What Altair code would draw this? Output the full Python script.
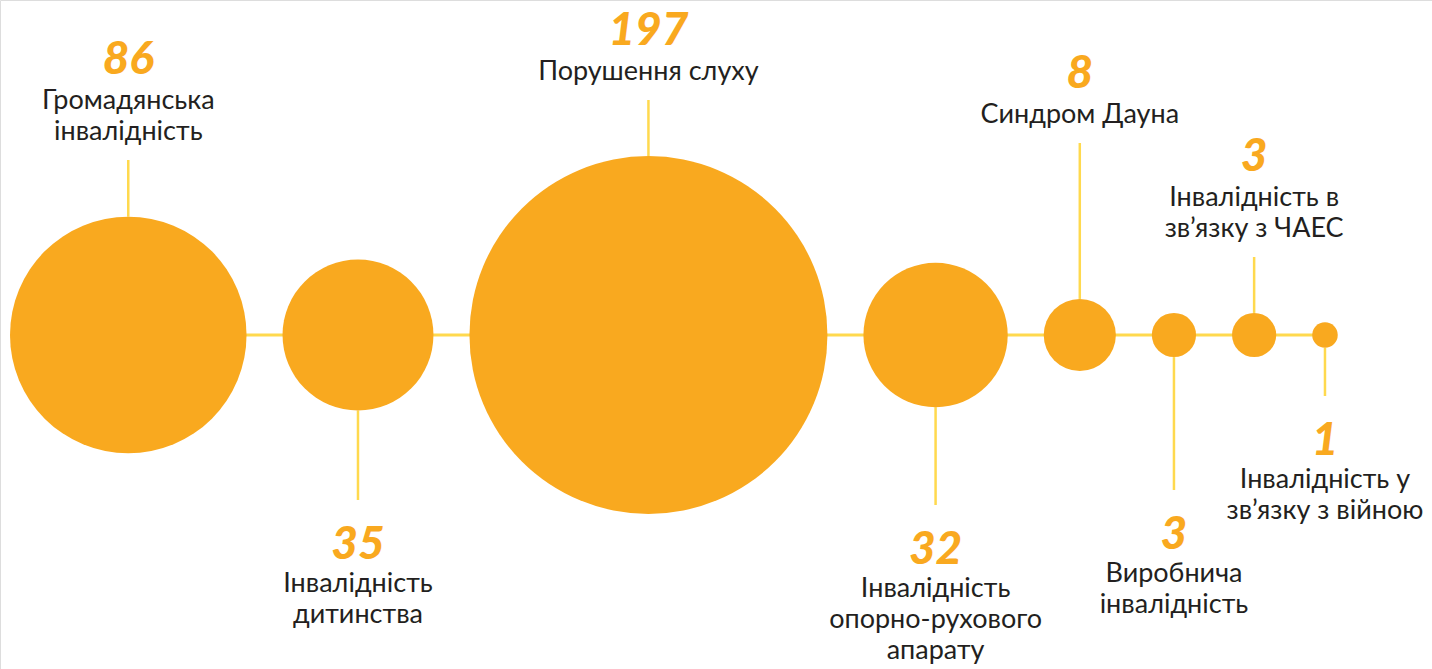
import math
import altair as alt
import pandas as pd

# ---- data ----
values = [86, 35, 197, 32, 8, 3, 3, 1]
labels = [
    ["Громадянська", "інвалідність"],
    ["Інвалідність", "дитинства"],
    ["Порушення слуху"],
    ["Інвалідність", "опорно-рухового", "апарату"],
    ["Синдром Дауна"],
    ["Виробнича", "інвалідність"],
    ["Інвалідність в", "зв’язку з ЧАЕС"],
    ["Інвалідність у", "зв’язку з війною"],
]
# ---- layout ----
directions = ["up", "down", "up", "down", "up", "down", "up", "down"]
stem_len = [175, 165, 235, 170, 192, 155, 78, 61]  # from circle centre to stem end

W, H = 1432, 669
CY = 335
RMAX = 179
GAP = 36
LEFT = 10
LINE_H = 31

ORANGE = "#F9A91F"
YELLOW = "#FFD94E"
TEXT = "#231F20"

radii = [RMAX * math.sqrt(v / max(values)) for v in values]
cx = []
edge = LEFT
for r in radii:
    cx.append(edge + r)
    edge += 2 * r + GAP

circ_rows, stem_rows, num_rows, lab_rows = [], [], [], []
for i, v in enumerate(values):
    circ_rows.append({"x": cx[i], "y": CY, "value": v})
    n = len(labels[i])
    if directions[i] == "up":
        end = CY - stem_len[i]
        stem_rows.append({"x": cx[i], "y": CY - radii[i], "y2": end})
        last = end - 28
        first = last - LINE_H * (n - 1)
        ny = first - 41
    else:
        end = CY + stem_len[i]
        stem_rows.append({"x": cx[i], "y": CY + radii[i], "y2": end})
        ny = end + 45
        first = ny + 39
    num_rows.append({"x": cx[i], "y": ny, "t": str(v)})
    for k, line in enumerate(labels[i]):
        lab_rows.append({"x": cx[i], "y": first + k * LINE_H, "t": line})

circ = pd.DataFrame(circ_rows)
stems = pd.DataFrame(stem_rows)
nums = pd.DataFrame(num_rows)
labs = pd.DataFrame(lab_rows)
hline = pd.DataFrame([{"x": cx[0], "x2": cx[-1], "y": CY}])

xs = alt.Scale(domain=[0, W], nice=False, zero=False)
ys = alt.Scale(domain=[0, H], nice=False, zero=False, reverse=True)
X = lambda f="x": alt.X(f"{f}:Q", scale=xs, axis=None)
Y = lambda f="y": alt.Y(f"{f}:Q", scale=ys, axis=None)

h = alt.Chart(hline).mark_rule(color=YELLOW, strokeWidth=3).encode(
    x=X(), x2="x2:Q", y=Y()
)
st = alt.Chart(stems).mark_rule(color=YELLOW, strokeWidth=2.5).encode(
    x=X(), y=Y(), y2="y2:Q"
)
# Vega circle symbol: diameter = sqrt(size)  ->  size = (2r)^2
c = alt.Chart(circ).mark_circle(color=ORANGE, opacity=1).encode(
    x=X(), y=Y(),
    size=alt.Size("value:Q", scale=alt.Scale(type="linear", domain=[0, max(values)],
                                             range=[0, 4 * RMAX ** 2]), legend=None),
)
nt = alt.Chart(nums).mark_text(
    font="Lato", fontSize=46, fontWeight=900, fontStyle="italic",
    color=ORANGE, align="center", baseline="middle",
).encode(x=X(), y=Y(), text="t:N")
lt = alt.Chart(labs).mark_text(
    font="Lato", fontSize=27, fontWeight=400,
    color=TEXT, align="center", baseline="middle",
).encode(x=X(), y=Y(), text="t:N")

chart = (
    alt.layer(h, st, c, nt, lt)
    .properties(width=W, height=H, autosize=alt.AutoSizeParams(type="none"), padding=0)
    .configure_view(stroke=None)
    .configure(background="white")
)
chart.save("out.html", embed_options={"renderer": "svg", "actions": False})
